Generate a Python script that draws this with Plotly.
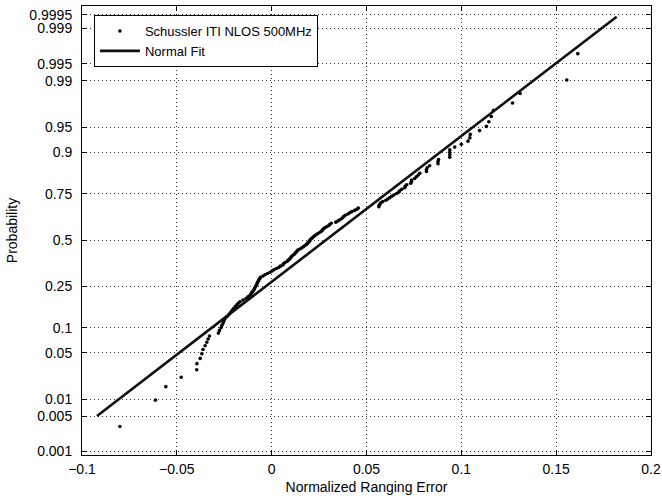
import plotly.graph_objects as go
from statistics import NormalDist

nd = NormalDist()

# Sorted normalized ranging errors
ranging_error = [
    -0.0800, -0.0613, -0.0558, -0.0477, -0.0395, -0.0394, -0.0377, -0.0368, -0.0362, -0.0351,
    -0.0342, -0.0335, -0.0328, -0.0281, -0.0275, -0.0267, -0.0262, -0.0256, -0.0251, -0.0246,
    -0.0235, -0.0225, -0.0217, -0.0209, -0.0202, -0.0193, -0.0185, -0.0177, -0.0167, -0.0151,
    -0.0135, -0.0125, -0.0114, -0.0109, -0.0104, -0.0097, -0.0093, -0.0089, -0.0085, -0.0081,
    -0.0077, -0.0075, -0.0071, -0.0067, -0.0062, -0.0059, -0.0046, -0.0035, -0.0022, -0.0009,
    0.0002, 0.0012, 0.0025, 0.0038, 0.0046, 0.0059, 0.0062, 0.0070, 0.0081, 0.0086,
    0.0094, 0.0099, 0.0104, 0.0109, 0.0117, 0.0123, 0.0128, 0.0133, 0.0138, 0.0149,
    0.0159, 0.0167, 0.0175, 0.0183, 0.0188, 0.0194, 0.0199, 0.0202, 0.0207, 0.0215,
    0.0220, 0.0228, 0.0236, 0.0244, 0.0254, 0.0263, 0.0267, 0.0272, 0.0280, 0.0289,
    0.0301, 0.0306, 0.0314, 0.0338, 0.0349, 0.0359, 0.0368, 0.0375, 0.0381, 0.0388,
    0.0402, 0.0412, 0.0423, 0.0438, 0.0449, 0.0457, 0.0565, 0.0567, 0.0570, 0.0575,
    0.0586, 0.0602, 0.0612, 0.0623, 0.0633, 0.0644, 0.0659, 0.0670, 0.0675, 0.0686,
    0.0702, 0.0704, 0.0712, 0.0733, 0.0737, 0.0738, 0.0754, 0.0763, 0.0773, 0.0781,
    0.0816, 0.0816, 0.0820, 0.0833, 0.0877, 0.0877, 0.0880, 0.0939, 0.0939, 0.0939,
    0.0939, 0.0965, 0.1000, 0.1035, 0.1045, 0.1047, 0.1096, 0.1132, 0.1145, 0.1158,
    0.1170, 0.1270, 0.1310, 0.1556, 0.1614,
]

# Normal fit line end points (x, probability)
fit_x = [-0.0921, 0.1819]
fit_p = [0.0051, 0.99945]

prob_ticks = [0.001, 0.005, 0.01, 0.05, 0.1, 0.25, 0.5, 0.75, 0.9, 0.95, 0.99, 0.995, 0.999, 0.9995]
prob_labels = ["0.001", "0.005", "0.01", "0.05", "0.1", "0.25", "0.5", "0.75", "0.9",
               "0.95", "0.99", "0.995", "0.999", "0.9995"]
x_ticks = [-0.1, -0.05, 0, 0.05, 0.1, 0.15, 0.2]
x_labels = ["\u22120.1", "\u22120.05", "0", "0.05", "0.1", "0.15", "0.2"]

# normal probability plot positions (i - 0.5) / n
n = len(ranging_error)
plot_pos = [(i + 0.5) / n for i in range(n)]
z_data = [nd.inv_cdf(p) for p in plot_pos]
z_fit = [nd.inv_cdf(p) for p in fit_p]
z_ticks = [nd.inv_cdf(p) for p in prob_ticks]

font_family = "Liberation Sans, Arial, Helvetica, sans-serif"

fig = go.Figure()
fig.add_trace(go.Scatter(
    x=ranging_error, y=z_data, mode="markers",
    name="Schussler ITI NLOS 500MHz",
    marker=dict(color="black", size=3.6, symbol="circle"),
))
fig.add_trace(go.Scatter(
    x=fit_x, y=z_fit, mode="lines",
    name="Normal Fit",
    line=dict(color="#111111", width=2.6),
))

axis_common = dict(
    showline=True, linecolor="black", linewidth=1, mirror="ticks",
    ticks="inside", ticklen=5, tickcolor="black", tickwidth=1,
    showgrid=True, gridcolor="#333333", gridwidth=1, griddash="1px,3px",
    zeroline=False, automargin=False,
    tickfont=dict(family=font_family, size=14, color="black"),
)

fig.update_xaxes(
    range=[-0.1, 0.2], tickvals=x_ticks, ticktext=x_labels,
    title=dict(text="Normalized Ranging Error", font=dict(family=font_family, size=14, color="black"), standoff=6),
    ticklabelstandoff=1,
    **axis_common,
)
fig.update_yaxes(
    range=[-3.14, 3.42], tickvals=z_ticks, ticktext=prob_labels,
    title=dict(text="Probability", font=dict(family=font_family, size=14, color="black"), standoff=8),
    ticklabelstandoff=6,
    **axis_common,
)

fig.update_layout(
    width=662, height=502,
    margin=dict(l=82, r=11, t=6, b=47),
    paper_bgcolor="white", plot_bgcolor="white",
    showlegend=True,
    legend=dict(
        x=0.021, y=0.98, xanchor="left", yanchor="top",
        bgcolor="white", bordercolor="black", borderwidth=1,
        font=dict(family=font_family, size=13, color="black"),
        itemwidth=40, tracegroupgap=0,
    ),
)

fig.write_html("out.html", config={"displayModeBar": False},
               post_script="document.body.style.margin='0';")
